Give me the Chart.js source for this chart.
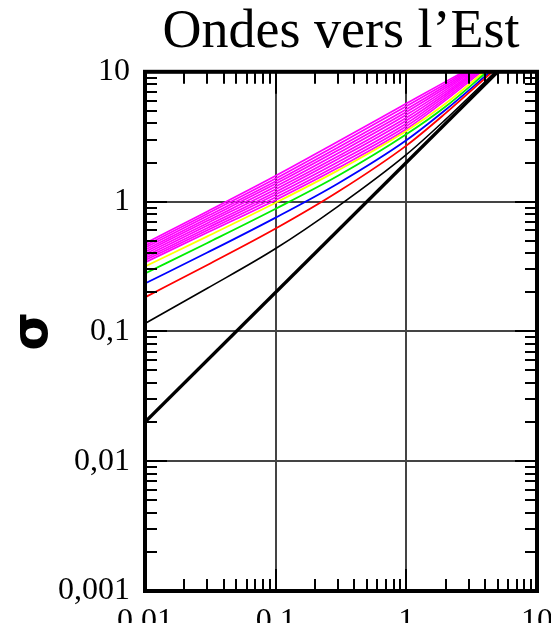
<!DOCTYPE html>
<html>
<head>
<meta charset="utf-8">
<script src="https://cdn.jsdelivr.net/npm/chart.js@4.4.0/dist/chart.umd.min.js"></script>
<style>
  html, body { margin: 0; padding: 0; background: #fff; overflow: hidden; }
  #wrap { width: 551px; height: 623px; }
</style>
</head>
<body>
<div id="wrap"><canvas id="chart"></canvas></div>
<script>
/* ---------- values ---------- */
const kSample = [0.01, 0.03, 0.1, 0.3, 1, 2];

const sigmaThin   = [0.115, 0.215, 0.435, 0.92, 2.3, 4.3];
const sigmaRed    = [0.183, 0.325, 0.62, 1.19, 2.7, 4.8];
const sigmaBlue   = [0.234, 0.405, 0.753, 1.38, 2.97, 5.1];
const sigmaGreen  = [0.279, 0.48, 0.88, 1.58, 3.3, 5.4];
const sigmaYellow = [0.316, 0.54, 0.98, 1.74, 3.5, 5.7];

// magenta band, bottom curve to top curve
const sigmaMagenta = [
  [0.340, 0.577, 1.030, 1.820, 3.62, 6.05],
  [0.353, 0.602, 1.080, 1.917, 3.81, 6.27],
  [0.366, 0.627, 1.133, 2.019, 4.00, 6.51],
  [0.380, 0.654, 1.188, 2.126, 4.21, 6.75],
  [0.394, 0.682, 1.246, 2.239, 4.43, 7.00],
  [0.409, 0.711, 1.307, 2.358, 4.66, 7.26],
  [0.425, 0.741, 1.370, 2.483, 4.90, 7.53],
  [0.441, 0.773, 1.437, 2.615, 5.15, 7.81],
  [0.457, 0.806, 1.507, 2.754, 5.42, 8.10],
  [0.475, 0.840, 1.580, 2.900, 5.70, 8.40]
];

// k where each curve leaves the top of the frame (sigma = 10)
const kAtTopColored = [4.8, 4.55, 4.4, 4.15, 3.95];   // thin, red, blue, green, yellow
const kAtTopMagenta = [3.75, 3.62, 3.50, 3.38, 3.27, 3.16, 3.05, 2.95, 2.85, 2.75];
const sigmaTop = 10;

// thick straight line
const kThick     = [0.01, 5];
const sigmaThick = [0.02, 10];

// axes
const xMajors = [0.01, 0.1, 1, 10];
const xTickLabels = ['0,01', '0,1', '1', '10'];
const yMajors = [0.001, 0.01, 0.1, 1, 10];
const yTickLabels = ['0,001', '0,01', '0,1', '1', '10'];

const SERIF = "'Liberation Serif', 'Times New Roman', serif";

/* ---------- helpers ---------- */
const toPoints = (ks, sig) => ks.map((k, i) => ({ x: k, y: sig[i] }));
const withTop  = (sig, kTop) => toPoints(kSample, sig).concat([{ x: kTop, y: sigmaTop }]);

const lineSet = (data, color, width) => ({
  data,
  borderColor: color,
  borderWidth: width,
  pointRadius: 0,
  showLine: true,
  fill: false,
  cubicInterpolationMode: 'monotone'
});

const datasets = [
  lineSet(toPoints(kThick, sigmaThick), '#000000', 3.4),
  lineSet(withTop(sigmaThin, kAtTopColored[0]), '#000000', 1.6),
  lineSet(withTop(sigmaRed, kAtTopColored[1]), '#ff0000', 1.8),
  lineSet(withTop(sigmaBlue, kAtTopColored[2]), '#0000ff', 1.8),
  lineSet(withTop(sigmaGreen, kAtTopColored[3]), '#00ee00', 1.8),
  lineSet(withTop(sigmaYellow, kAtTopColored[4]), '#ffff00', 1.8)
];
sigmaMagenta.forEach((sig, i) => {
  datasets.push(lineSet(withTop(sig, kAtTopMagenta[i]), '#ff00ff', 1.7));
});

/* ---------- frame: grid, inward ticks on all sides, border ---------- */
function decadeTicks(minV, maxV) {
  const out = [];
  for (let e = Math.round(Math.log10(minV)); e < Math.round(Math.log10(maxV)); e++) {
    for (let m = 1; m <= 9; m++) out.push({ v: m * Math.pow(10, e), major: m === 1 });
  }
  out.push({ v: maxV, major: true });
  return out;
}

const frame = {
  id: 'frame',
  beforeDatasetsDraw(chart) {
    const { ctx, chartArea: a, scales: { x, y } } = chart;
    ctx.save();
    ctx.strokeStyle = '#444';
    ctx.lineWidth = 2;
    ctx.beginPath();
    xMajors.slice(1, -1).forEach(v => {
      const px = Math.round(x.getPixelForValue(v));
      ctx.moveTo(px, a.top); ctx.lineTo(px, a.bottom);
    });
    yMajors.slice(1, -1).forEach(v => {
      const py = Math.round(y.getPixelForValue(v));
      ctx.moveTo(a.left, py); ctx.lineTo(a.right, py);
    });
    ctx.stroke();
    ctx.restore();
  },
  afterDatasetsDraw(chart) {
    const { ctx, chartArea: a, scales: { x, y } } = chart;
    const major = 22, minor = 12;
    ctx.save();
    ctx.strokeStyle = '#000';
    ctx.lineWidth = 2;
    ctx.beginPath();
    decadeTicks(xMajors[0], xMajors[xMajors.length - 1]).forEach(t => {
      const px = Math.round(x.getPixelForValue(t.v));
      const len = t.major ? major : minor;
      ctx.moveTo(px, a.bottom); ctx.lineTo(px, a.bottom - len);
      ctx.moveTo(px, a.top);    ctx.lineTo(px, a.top + len);
    });
    decadeTicks(yMajors[0], yMajors[yMajors.length - 1]).forEach(t => {
      const py = Math.round(y.getPixelForValue(t.v));
      const len = t.major ? major : minor;
      ctx.moveTo(a.left, py);  ctx.lineTo(a.left + len, py);
      ctx.moveTo(a.right, py); ctx.lineTo(a.right - len, py);
    });
    ctx.stroke();
    ctx.lineWidth = 4;
    ctx.strokeRect(a.left, a.top, a.right - a.left, a.bottom - a.top);
    ctx.restore();
  }
};

/* ---------- chart ---------- */
new Chart(document.getElementById('chart'), {
  type: 'scatter',
  data: { datasets },
  plugins: [frame],
  options: {
    responsive: true,
    maintainAspectRatio: false,
    animation: false,
    events: [],
    layout: { padding: { left: 0, right: 14, top: 0, bottom: 0 } },
    plugins: {
      legend: { display: false },
      tooltip: { enabled: false },
      title: {
        display: true,
        text: 'Ondes vers l\u2019Est',
        fullSize: false,
        color: '#000',
        font: { family: SERIF, size: 54, weight: 'normal', lineHeight: 1.2 },
        padding: { top: 0, bottom: 7 }
      }
    },
    scales: {
      x: {
        type: 'logarithmic',
        position: 'bottom',
        min: xMajors[0],
        max: xMajors[xMajors.length - 1],
        grid: { display: false, drawTicks: false },
        border: { display: false },
        afterBuildTicks: s => { s.ticks = xMajors.map(v => ({ value: v })); },
        afterFit: s => { s.height = 32; s.paddingLeft = 0; s.paddingRight = 0; },
        ticks: {
          autoSkip: false,
          maxRotation: 0,
          padding: 11,
          color: '#000',
          font: { family: SERIF, size: 32 },
          callback: (v, i) => xTickLabels[i]
        }
      },
      y: {
        type: 'logarithmic',
        position: 'left',
        min: yMajors[0],
        max: yMajors[yMajors.length - 1],
        grid: { display: false, drawTicks: false },
        border: { display: false },
        afterBuildTicks: s => { s.ticks = yMajors.map(v => ({ value: v })); },
        afterFit: s => { s.width = 145; s.paddingTop = 0; s.paddingBottom = 0; },
        title: {
          display: true,
          text: '\u03c3',
          color: '#000',
          font: { family: "'DejaVu Sans', sans-serif", size: 50, weight: 'bold', lineHeight: 1.2 },
          padding: { top: 4, bottom: 0 }
        },
        ticks: {
          autoSkip: false,
          padding: 15,
          color: '#000',
          font: { family: SERIF, size: 32 },
          callback: (v, i) => yTickLabels[i]
        }
      }
    }
  }
});
</script>
</body>
</html>
